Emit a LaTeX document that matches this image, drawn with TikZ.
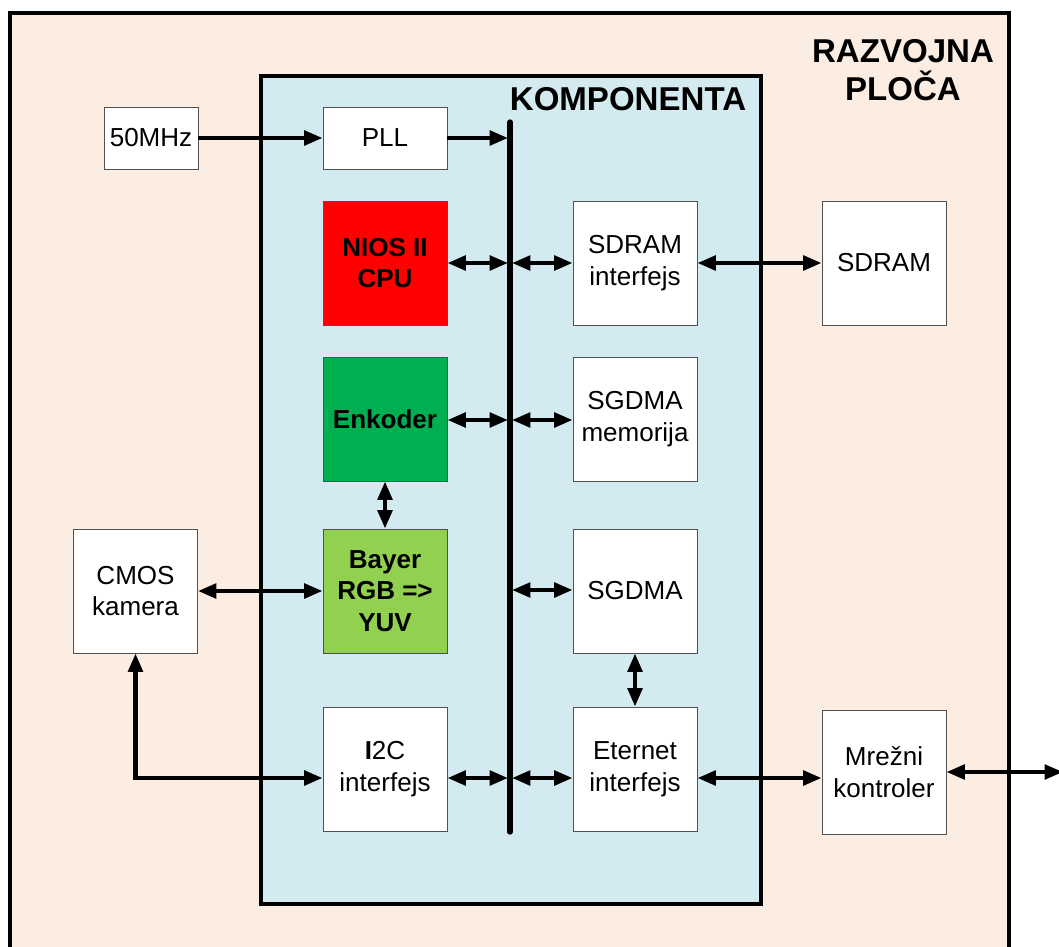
\documentclass[tikz,border=0pt]{standalone}
\usepackage{fontspec}
\setmainfont{Liberation Sans}
\usepackage{tikz}
\usetikzlibrary{arrows.meta, positioning, calc}
\usepackage{xcolor}
\definecolor{boardpeach}{RGB}{252,237,227}
\definecolor{compblue}{RGB}{210,234,240}
\definecolor{niosred}{RGB}{255,0,0}
\definecolor{encgreen}{RGB}{0,176,80}
\definecolor{bayergreen}{RGB}{146,208,80}
\definecolor{boxedge}{RGB}{80,80,80}

\begin{document}
\begin{tikzpicture}[x=0.025cm, y=-0.025cm,
  >={Triangle[length=0.46cm, width=0.36cm]},
  blk/.style={draw=boxedge, line width=0.6pt, fill=white, inner sep=0pt,
    minimum width=3.1cm, minimum height=3.1cm, align=center,
    font=\fontsize{18.5}{22.5}\selectfont},
  bold/.style={font=\fontsize{18.5}{22.5}\selectfont\bfseries},
  title/.style={align=center, font=\fontsize{23.5}{26.5}\selectfont\bfseries},
  wire/.style={line width=3pt},
  bus/.style={line width=3.8pt, line cap=round}]
  \clip (0,0) rectangle (1059,947);
  % Board and component
  \draw[line width=3.4pt, fill=boardpeach] (10,13) rectangle (1009,990);
  \draw[line width=3.4pt, fill=compblue] (261,76) rectangle (761,904);
  \node[title] (board) at (903,70) {RAZVOJNA\\PLOČA};
  \node[title] (comp) at (628,99) {KOMPONENTA};
  % Bus
  \coordinate (bustop) at (510,122);
  \coordinate (busbot) at (510,832);
  \draw[bus] (bustop) -- (busbot);
  % Blocks
  \node[blk, minimum width=2.35cm, minimum height=1.55cm] (osc) at (151,138) {50MHz};
  \node[blk, minimum height=1.55cm] (pll) at (385,138) {PLL};
  \node[blk, bold, fill=niosred] (cpu) at (385,263) {NIOS II\\CPU};
  \node[blk] (sdif) at (635,263) {SDRAM\\interfejs};
  \node[blk] (sdram) at (884,263) {SDRAM};
  \node[blk, bold, fill=encgreen] (enc) at (385,419) {Enkoder};
  \node[blk] (sgmem) at (635,419) {SGDMA\\memorija};
  \node[blk] (cmos) at (135.5,591) {CMOS\\kamera};
  \node[blk, bold, fill=bayergreen] (bayer) at (385,591) {Bayer\\RGB =>\\YUV};
  \node[blk] (sgdma) at (635,591) {SGDMA};
  \node[blk] (i2c) at (385,769) {\textbf{I}2C\\interfejs};
  \node[blk] (eth) at (635,769) {Eternet\\interfejs};
  \node[blk] (mac) at (884,772) {Mrežni\\kontroler};
  % Rows
  \coordinate (rmem) at (0,263);
  \coordinate (renc) at (0,420);
  \coordinate (rdma) at (0,590);
  \coordinate (rnet) at (0,778);
  \coordinate (rout) at (0,772);
  \coordinate (netout) at (1063,772);
  % Links
  \draw[wire, ->] (osc) -- (pll);
  \draw[wire, ->, shorten >=1.4pt] (pll.east) -- (pll.east -| bustop);
  \foreach \n/\r in {cpu/rmem, enc/renc, i2c/rnet}
    \draw[wire, <->, shorten >=1.4pt] (\n.east |- \r) -- (bustop |- \r);
  \foreach \n/\r in {sdif/rmem, sgmem/renc, sgdma/rdma, eth/rnet}
    \draw[wire, <->, shorten <=1.4pt] (bustop |- \r) -- (\n.west |- \r);
  \draw[wire, <->] (sdif) -- (sdram);
  \draw[wire, <->] (enc) -- (bayer);
  \draw[wire, <->] (cmos) -- (bayer);
  \draw[wire, <->] (sgdma) -- (eth);
  \draw[wire, <->] (cmos.south) |- (i2c.west |- rnet);
  \draw[wire, <->] (eth.east |- rnet) -- (mac.west |- rnet);
  \draw[wire, <->] (mac.east |- rout) -- (netout);
\end{tikzpicture}
\end{document}
